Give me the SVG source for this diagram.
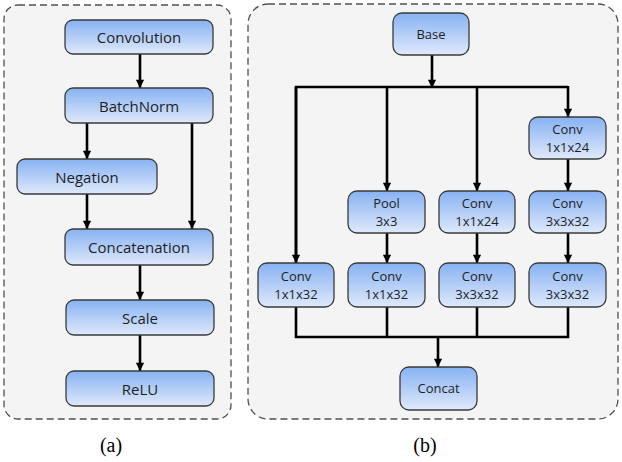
<svg xmlns="http://www.w3.org/2000/svg" width="622" height="462" viewBox="0 0 622 462">
<defs>
<linearGradient id="g" x1="0" y1="0" x2="0" y2="1">
<stop offset="0" stop-color="#87b2f2"/>
<stop offset="1" stop-color="#dfe9fb"/>
</linearGradient>
<marker id="ah" viewBox="0 0 10 10" refX="10" refY="5" markerWidth="3.4" markerHeight="3.2" markerUnits="strokeWidth" orient="auto">
<path d="M0,0 L10,5 L0,10 z" fill="#000"/>
</marker>
</defs>
<style>
.panel{fill:#f4f4f4;stroke:#505050;stroke-width:1.3;stroke-dasharray:7,4}
.box{fill:url(#g);stroke:#3a3a3a;stroke-width:1.3}
.t{font-family:"Open Sans","Liberation Sans",sans-serif;font-size:15px;fill:#1e1e1e;text-anchor:middle;dominant-baseline:central}
.s{font-family:"Open Sans","Liberation Sans",sans-serif;font-size:13px;fill:#1e1e1e;text-anchor:middle}
.c{stroke:#000;stroke-width:2.6;fill:none}
.a{stroke:#000;stroke-width:2.6;fill:none;marker-end:url(#ah)}
.cap{font-family:"Liberation Serif",serif;font-size:20px;fill:#000;text-anchor:middle}
</style>
<rect class="panel" x="4" y="5" width="227" height="414" rx="14"/>
<rect class="panel" x="248" y="4" width="370" height="415" rx="20"/>
<g id="connectors">
<line class="a" x1="140" y1="54" x2="140" y2="88"/>
<line class="a" x1="87" y1="123" x2="87" y2="159"/>
<line class="a" x1="87" y1="194" x2="87" y2="229"/>
<line class="a" x1="192" y1="123" x2="192" y2="229"/>
<line class="a" x1="140" y1="265" x2="140" y2="300"/>
<line class="a" x1="140" y1="335" x2="140" y2="371"/>
<line class="a" x1="432" y1="55" x2="432" y2="88"/>
<polyline class="c" points="296,263 296,87 568,87"/>
<line class="a" x1="296" y1="87" x2="296" y2="263"/>
<line class="a" x1="387" y1="87" x2="387" y2="191"/>
<line class="a" x1="477" y1="87" x2="477" y2="191"/>
<line class="a" x1="568" y1="86" x2="568" y2="117"/>
<line class="a" x1="568" y1="159" x2="568" y2="191"/>
<line class="a" x1="387" y1="233" x2="387" y2="263"/>
<line class="a" x1="477" y1="233" x2="477" y2="263"/>
<line class="a" x1="568" y1="233" x2="568" y2="263"/>
<polyline class="c" points="296,307 296,337 568,337 568,307"/>
<line class="c" x1="387" y1="307" x2="387" y2="337"/>
<line class="c" x1="477" y1="307" x2="477" y2="337"/>
<line class="a" x1="438" y1="336" x2="438" y2="367"/>
</g>
<g id="convolution"><rect class="box" x="65" y="20" width="148" height="34" rx="8"/><text class="t" x="139" y="37">Convolution</text></g>
<g id="batchnorm"><rect class="box" x="65" y="88" width="148" height="35" rx="8"/><text class="t" x="139" y="105.5">BatchNorm</text></g>
<g id="negation"><rect class="box" x="17" y="159" width="140" height="35" rx="8"/><text class="t" x="87" y="176.5">Negation</text></g>
<g id="concatenation"><rect class="box" x="65" y="229" width="148" height="36" rx="8"/><text class="t" x="139" y="247">Concatenation</text></g>
<g id="scale"><rect class="box" x="66" y="300" width="148" height="35" rx="8"/><text class="t" x="140" y="317.5">Scale</text></g>
<g id="relu"><rect class="box" x="66" y="371" width="148" height="35" rx="8"/><text class="t" x="140" y="388.5">ReLU</text></g>
<g id="base"><rect class="box" x="393" y="13" width="76" height="42" rx="9"/><text class="s" x="431" y="39">Base</text></g>
<g id="conv-a1"><rect class="box" x="529" y="117" width="77" height="42" rx="9"/><text class="s" x="567.5" y="134">Conv</text><text class="s" x="567.5" y="152">1x1x24</text></g>
<g id="pool"><rect class="box" x="348" y="191" width="77" height="42" rx="9"/><text class="s" x="386.5" y="208">Pool</text><text class="s" x="386.5" y="226">3x3</text></g>
<g id="conv-b1"><rect class="box" x="439" y="191" width="76" height="42" rx="9"/><text class="s" x="477" y="208">Conv</text><text class="s" x="477" y="226">1x1x24</text></g>
<g id="conv-a2"><rect class="box" x="529" y="191" width="77" height="42" rx="9"/><text class="s" x="567.5" y="208">Conv</text><text class="s" x="567.5" y="226">3x3x32</text></g>
<g id="conv-c"><rect class="box" x="258" y="263" width="76" height="44" rx="9"/><text class="s" x="296" y="281">Conv</text><text class="s" x="296" y="299">1x1x32</text></g>
<g id="conv-d"><rect class="box" x="348" y="263" width="77" height="44" rx="9"/><text class="s" x="386.5" y="281">Conv</text><text class="s" x="386.5" y="299">1x1x32</text></g>
<g id="conv-b2"><rect class="box" x="439" y="263" width="76" height="44" rx="9"/><text class="s" x="477" y="281">Conv</text><text class="s" x="477" y="299">3x3x32</text></g>
<g id="conv-a3"><rect class="box" x="529" y="263" width="77" height="44" rx="9"/><text class="s" x="567.5" y="281">Conv</text><text class="s" x="567.5" y="299">3x3x32</text></g>
<g id="concat"><rect class="box" x="400" y="367" width="77" height="43" rx="9"/><text class="s" x="438.5" y="393">Concat</text></g>
<text class="cap" x="111" y="452">(a)</text>
<text class="cap" x="425" y="452">(b)</text>
</svg>
